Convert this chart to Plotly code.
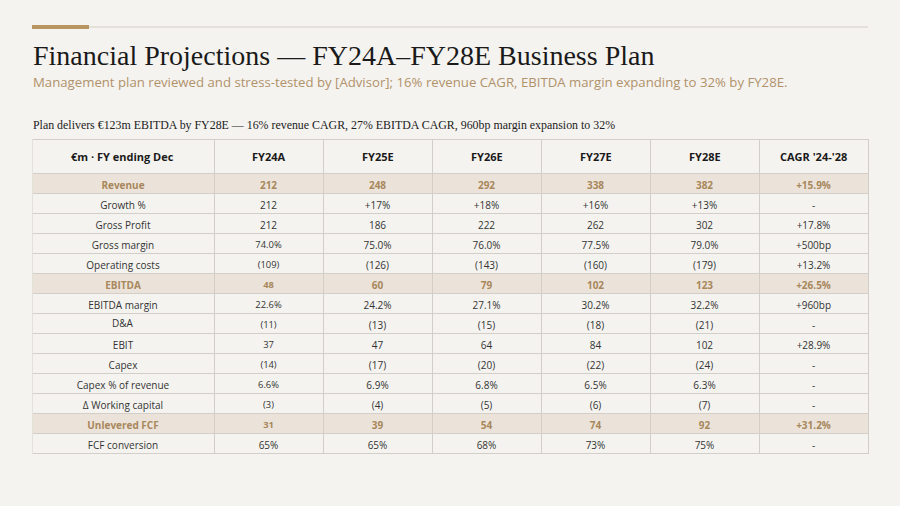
import plotly.graph_objects as go

W, H = 900, 506
BG = "#f5f3ef"
GOLD = "#b8965f"
TAN_TEXT = "#a8875c"
HL_FILL = "#ebe3d9"
LINE = "#d3cec7"
DARK = "#333333"

header = ["€m · FY ending Dec", "FY24A", "FY25E", "FY26E", "FY27E", "FY28E", "CAGR '24-'28"]
row_labels = ["Revenue", "Growth %", "Gross Profit", "Gross margin", "Operating costs", "EBITDA",
              "EBITDA margin", "D&A", "EBIT", "Capex", "Capex % of revenue", "Δ Working capital",
              "Unlevered FCF", "FCF conversion"]
fy24a = ["212", "212", "212", "74.0%", "(109)", "48", "22.6%", "(11)", "37", "(14)", "6.6%", "(3)", "31", "65%"]
fy25e = ["248", "+17%", "186", "75.0%", "(126)", "60", "24.2%", "(13)", "47", "(17)", "6.9%", "(4)", "39", "65%"]
fy26e = ["292", "+18%", "222", "76.0%", "(143)", "79", "27.1%", "(15)", "64", "(20)", "6.8%", "(5)", "54", "68%"]
fy27e = ["338", "+16%", "262", "77.5%", "(160)", "102", "30.2%", "(18)", "84", "(22)", "6.5%", "(6)", "74", "73%"]
fy28e = ["382", "+13%", "302", "79.0%", "(179)", "123", "32.2%", "(21)", "102", "(24)", "6.3%", "(7)", "92", "75%"]
cagr = ["+15.9%", "-", "+17.8%", "+500bp", "+13.2%", "+26.5%", "+960bp", "-", "+28.9%", "-", "-", "-", "+31.2%", "-"]
highlight_rows = [0, 5, 12]

columns = [row_labels, fy24a, fy25e, fy26e, fy27e, fy28e, cagr]
n = len(row_labels)
ncol = len(columns)

# layout / style constants (pixels)
TABLE_X0, TABLE_X1, TABLE_TOP = 32, 868, 139
HEADER_H, ROW_H = 34, 20
COL_W = [182, 109, 109, 109, 109, 109, 109]
BODY_SIZE, SMALL_SIZE, HEAD_SIZE = 10, 9.4, 11
small_fy24a_rows = set(range(3, 13))   # FY24A column rendered slightly smaller on these rows
group_starts = [1, 3, 5, 12]           # table segments (first row of each drawn as segment header)


def py(px):
    return 1 - px / H


def px_x(px):
    return px / W


col_edges = [TABLE_X0]
scale = (TABLE_X1 - TABLE_X0) / sum(COL_W)
for w in COL_W:
    col_edges.append(col_edges[-1] + w * scale)


def col_center(ci):
    return (col_edges[ci] + col_edges[ci + 1]) / 2


def row_top(ri):
    return TABLE_TOP + HEADER_H + ri * ROW_H


def row_style(ri):
    if ri in highlight_rows:
        return dict(fill=HL_FILL, color=TAN_TEXT, weight="bold")
    return dict(fill=BG, color=DARK, weight="normal")


def size_of(ci, ri):
    return SMALL_SIZE if (ci == 1 and ri in small_fy24a_rows) else BODY_SIZE


overlay = []


def cell_text(ci, ri):
    v = columns[ci][ri]
    if any(ch in v for ch in "<&>"):
        overlay.append((ci, ri, v))
        return ""
    return v


fig = go.Figure()

# column header row: lines/fill from a table, text centred via annotations
st0 = row_style(0)
fig.add_trace(go.Table(
    domain=dict(x=[px_x(TABLE_X0), px_x(TABLE_X1)], y=[py(row_top(1) + 1), py(TABLE_TOP)]),
    columnwidth=COL_W,
    header=dict(values=[""] * ncol, fill_color=BG, line_color=LINE, line_width=1,
                align="center", height=HEADER_H, font=dict(family="Open Sans", size=HEAD_SIZE)),
    cells=dict(values=[[cell_text(ci, 0)] for ci in range(ncol)],
               fill_color=st0["fill"], line_color=LINE, line_width=1, align="center", height=ROW_H,
               font=dict(family="Open Sans", size=[size_of(ci, 0) for ci in range(ncol)],
                         color=st0["color"], weight=st0["weight"])),
))
for ci, h in enumerate(header):
    fig.add_annotation(text=f"<b>{h}</b>", xref="paper", yref="paper",
                       x=px_x(col_center(ci)), y=py(TABLE_TOP + HEADER_H / 2),
                       xanchor="center", yanchor="middle", showarrow=False,
                       font=dict(family="Open Sans", size=HEAD_SIZE, color="#1a1a1a"))

bounds = group_starts + [n]
for gi in range(len(group_starts)):
    a, b = bounds[gi], bounds[gi + 1]
    hs = row_style(a)
    rest = list(range(a + 1, b))
    cells_fill = [[row_style(r)["fill"] for r in rest] for _ in columns]
    cells_color = [[row_style(r)["color"] for r in rest] for _ in columns]
    cell_sizes = [size_of(ci, rest[0]) if rest else BODY_SIZE for ci in range(ncol)]
    fig.add_trace(go.Table(
        domain=dict(x=[px_x(TABLE_X0), px_x(TABLE_X1)], y=[py(row_top(b) + 1), py(row_top(a))]),
        columnwidth=COL_W,
        header=dict(values=[cell_text(ci, a) for ci in range(ncol)],
                    fill_color=hs["fill"], line_color=LINE, line_width=1, align="center", height=ROW_H,
                    font=dict(family="Open Sans", size=[size_of(ci, a) for ci in range(ncol)],
                              color=hs["color"], weight=hs["weight"])),
        cells=dict(values=[[cell_text(ci, r) for r in rest] for ci in range(ncol)],
                   fill_color=cells_fill, line_color=LINE, line_width=1, align="center", height=ROW_H,
                   font=dict(family="Open Sans", size=cell_sizes, color=cells_color, weight="normal")),
    ))

for ci, ri, v in overlay:
    stl = row_style(ri)
    fig.add_annotation(text=f"<b>{v}</b>" if stl["weight"] == "bold" else v,
                       xref="paper", yref="paper",
                       x=px_x(col_center(ci)), y=py(row_top(ri) + ROW_H / 2),
                       xanchor="center", yanchor="middle", showarrow=False,
                       font=dict(family="Open Sans", size=size_of(ci, ri), color=stl["color"]))

# hide the table's outer left border (reference has none)
fig.add_shape(type="line", xref="paper", yref="paper",
              x0=px_x(TABLE_X0 - 0.5), x1=px_x(TABLE_X0 - 0.5),
              y0=py(TABLE_TOP - 1), y1=py(row_top(n) + 2),
              line=dict(color=BG, width=2))

fig.add_shape(type="rect", xref="paper", yref="paper",
              x0=px_x(32), x1=px_x(89), y0=py(29), y1=py(25),
              fillcolor=GOLD, line_width=0)
fig.add_shape(type="line", xref="paper", yref="paper",
              x0=px_x(89), x1=px_x(868), y0=py(27), y1=py(27),
              line=dict(color="#e4e0da", width=2))

fig.add_annotation(text="Financial Projections — FY24A–FY28E Business Plan",
                   xref="paper", yref="paper", x=px_x(31), y=py(55),
                   xanchor="left", yanchor="middle", showarrow=False,
                   font=dict(family="Liberation Serif", size=28, color="#1a1a1a"))
fig.add_annotation(text="Management plan reviewed and stress-tested by [Advisor]; 16% revenue CAGR, EBITDA margin expanding to 32% by FY28E.",
                   xref="paper", yref="paper", x=px_x(31), y=py(82),
                   xanchor="left", yanchor="middle", showarrow=False,
                   font=dict(family="Open Sans", size=13.2, color="#b0926b"))
fig.add_annotation(text="Plan delivers €123m EBITDA by FY28E — 16% revenue CAGR, 27% EBITDA CAGR, 960bp margin expansion to 32%",
                   xref="paper", yref="paper", x=px_x(31), y=py(125),
                   xanchor="left", yanchor="middle", showarrow=False,
                   font=dict(family="Liberation Serif", size=11.9, color="#222222"))

fig.update_layout(width=W, height=H, margin=dict(l=0, r=0, t=0, b=0),
                  paper_bgcolor=BG, plot_bgcolor=BG, showlegend=False)
fig.write_html("out.html", config={"displayModeBar": False},
               post_script="document.body.style.margin='0';")
